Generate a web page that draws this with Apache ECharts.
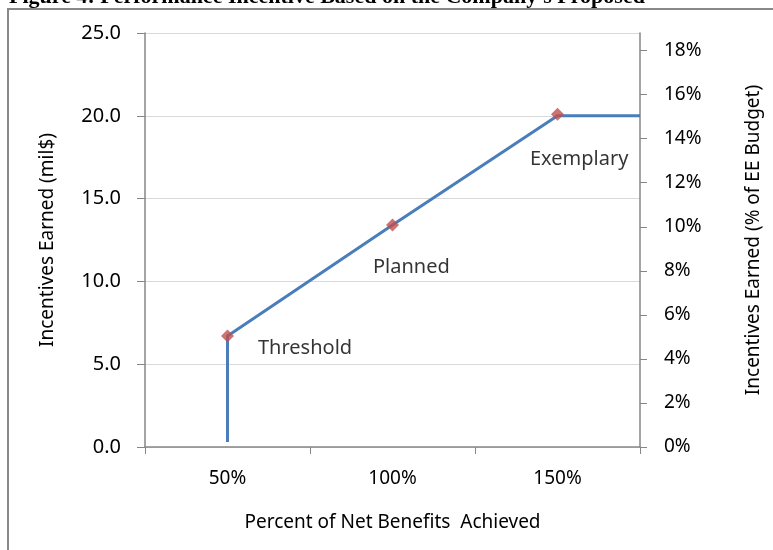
<!DOCTYPE html>
<html>
<head>
<meta charset="utf-8">
<script src="https://cdn.jsdelivr.net/npm/echarts@6/dist/echarts.min.js"></script>
<style>
  html, body { margin: 0; padding: 0; background: #fff; }
  #map { width: 773px; height: 550px; }
</style>
</head>
<body>
<div id="map"></div>
<script>
// Incentive curve: [percent of net benefits, mil$]
let lineData = [[50, 0.3], [50, 6.7], [100, 13.4], [150, 20.0], [175, 20.0]];
let pointNames = ['Threshold', 'Planned', 'Exemplary'];
let pointX = [50, 100, 150];
let pointY = [6.7, 13.4, 20.1];
let xLabels = [50, 100, 150];
let xTicks = [25, 75, 125, 175];
let pctLabels = [0, 2, 4, 6, 8, 10, 12, 14, 16, 18];

let font = 'Noto Sans';
let labelOffsets = [[19, 12], [-31, 42], [-39, 45]];

let myChart = echarts.init(document.getElementById('map'));
let option = {
    title: {
        text: "Figure 4: Performance Incentive Based on the Company's Proposed",
        left: 4,
        top: -19,
        textStyle: {
            fontFamily: 'Liberation Serif',
            fontWeight: 'bold',
            fontSize: 22,
            color: '#000'
        }
    },
    graphic: [{
        type: 'rect',
        shape: {x: 8, y: 9, width: 820, height: 620},
        style: {fill: 'none', stroke: '#888', lineWidth: 2},
        silent: true
    }],
    grid: {left: 145, right: 133, top: 33, bottom: 103},
    xAxis: {
        type: 'value',
        min: 25,
        max: 175,
        name: 'Percent of Net Benefits  Achieved',
        nameLocation: 'middle',
        nameGap: 66,
        nameTextStyle: {fontFamily: font, fontSize: 19, color: '#000'},
        axisLine: {lineStyle: {color: '#868686', width: 1.5}},
        axisTick: {show: true, customValues: xTicks, length: 7, lineStyle: {color: '#868686'}},
        axisLabel: {
            customValues: xLabels,
            formatter: v => v + '%',
            margin: 22,
            fontFamily: font, fontSize: 19, color: '#000'
        },
        splitLine: {show: false}
    },
    yAxis: [{
        type: 'value',
        min: 0,
        max: 25,
        interval: 5,
        name: 'Incentives Earned (mil$)',
        nameLocation: 'middle',
        nameGap: 88,
        nameTextStyle: {fontFamily: font, fontSize: 19, color: '#000'},
        axisLine: {show: true, lineStyle: {color: '#868686', width: 1.5}},
        axisTick: {show: true, length: 8, lineStyle: {color: '#868686'}},
        axisLabel: {
            formatter: v => v.toFixed(1),
            margin: 24,
            fontFamily: font, fontSize: 20, color: '#000'
        },
        splitLine: {lineStyle: {color: '#d9d9d9', width: 1.2}}
    }, {
        type: 'value',
        position: 'right',
        min: 0,
        max: 18.8,
        name: 'Incentives Earned (% of EE Budget)',
        nameLocation: 'middle',
        nameGap: 104,
        nameRotate: 90,
        nameTextStyle: {fontFamily: font, fontSize: 19, color: '#000'},
        axisLine: {show: true, lineStyle: {color: '#868686', width: 1.5}},
        axisTick: {show: true, customValues: pctLabels, length: 7, lineStyle: {color: '#868686'}},
        axisLabel: {
            customValues: pctLabels,
            formatter: v => v + '%',
            margin: 24,
            fontFamily: font, fontSize: 19, color: '#000'
        },
        splitLine: {show: false}
    }],
    series: [
        {
            type: 'line',
            data: lineData,
            showSymbol: false,
            lineStyle: {color: '#4a7ebb', width: 3},
            z: 2
        },
        {
            type: 'scatter',
            symbol: 'diamond',
            symbolSize: 13,
            itemStyle: {color: '#c0504d'},
            data: pointX.map((x, i) => ({
                value: [x, pointY[i]],
                label: {
                    show: true,
                    formatter: pointNames[i],
                    position: 'right',
                    offset: labelOffsets[i],
                    fontFamily: font,
                    fontSize: 20,
                    color: '#000'
                }
            })),
            z: 3
        }
    ]
};
myChart.setOption(option);
</script>
</body>
</html>
